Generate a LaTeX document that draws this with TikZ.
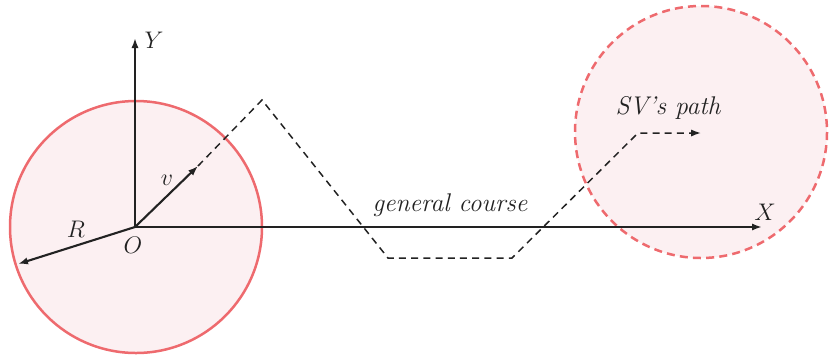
\documentclass[tikz,border=0pt]{standalone}
\usetikzlibrary{arrows.meta}
\definecolor{ringred}{HTML}{EE6A6E}
\definecolor{ringfill}{HTML}{FCF0F2}
\definecolor{inkblack}{HTML}{222222}
\begin{document}
\begin{tikzpicture}[x=0.5pt,y=-0.5pt,
  axis/.style={draw=inkblack,line width=1.05pt,-{Latex[length=5pt,width=3.6pt]}},
  dashline/.style={draw=inkblack,line width=0.75pt,dash pattern=on 3.5pt off 2.6pt},
  lbl/.style={font=\fontsize{12.8}{14}\selectfont\itshape,text=inkblack,inner sep=1pt},
  mlbl/.style={font=\fontsize{13}{14}\selectfont,text=inkblack,inner sep=1pt}]
\useasboundingbox (0,0) rectangle (833,354);
% circles
\fill[ringfill] (136,227) circle (126);
\draw[ringred,line width=1.25pt] (136,227) circle (126);
\fill[ringfill] (701,132) circle (126);
\draw[ringred,line width=1.25pt,dash pattern=on 4pt off 2.6pt] (701,132) circle (126);
% coordinates
\coordinate (O) at (135,227);
\coordinate (Yend) at (135,38);
\coordinate (Xend) at (762,227);
\coordinate (Rend) at (18,264);
\coordinate (vend) at (198,166);
\coordinate (p1) at (262,100);
\coordinate (p2) at (388,258);
\coordinate (p3) at (512,258);
\coordinate (p4) at (638,133);
\coordinate (p5) at (701,133);
% dashed course
\draw[dashline,-{Latex[length=5pt,width=3.6pt]}] (vend) -- (p1) -- (p2) -- (p3) -- (p4) -- (p5);
% axes
\draw[axis] (O) -- (Yend);
\draw[axis] (O) -- (Xend);
\draw[axis] (O) -- (Rend);
\draw[axis] (O) -- (vend);
% labels
\node[mlbl] (Ylab) at (154,40) {$Y$};
\node[mlbl] (Xlab) at (765,212) {$X$};
\node[mlbl] (Olab) at (133,245) {$O$};
\node[mlbl] (Rlab) at (76,229) {$R$};
\node[mlbl] (vlab) at (167,180) {$v$};
\node[lbl] (gen) at (450,205) {general course};
\node[lbl] (sv) at (668,108) {SV's path};
\end{tikzpicture}
\end{document}
